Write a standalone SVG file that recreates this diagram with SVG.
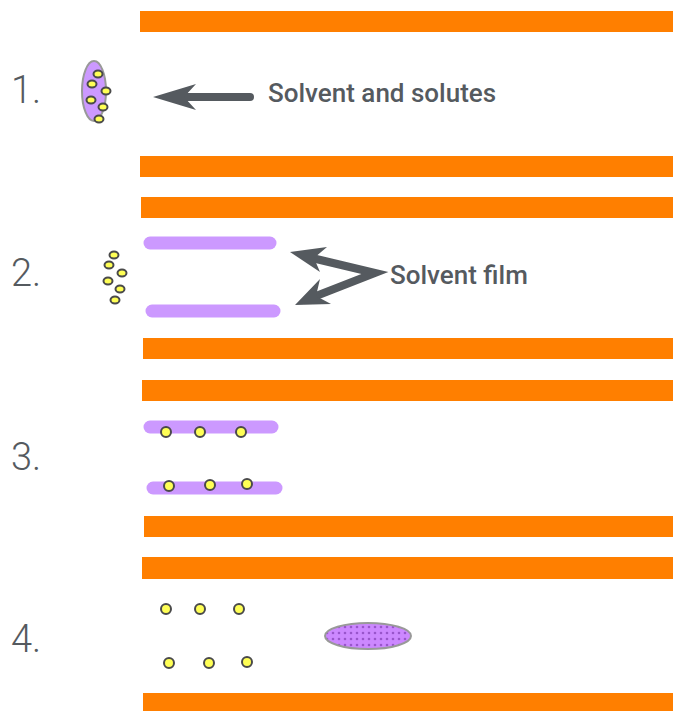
<svg xmlns="http://www.w3.org/2000/svg" width="673" height="711" viewBox="0 0 673 711">
<style>
.bar{fill:#ff7f00}
.num{font-family:Roboto,"Liberation Sans",sans-serif;font-size:38px;font-weight:300;fill:#555a5f}
.lbl{font-family:Roboto,"Liberation Sans",sans-serif;font-size:26px;font-weight:500;fill:#555a5f}
.film{stroke:#cc99ff;stroke-width:13;stroke-linecap:round;fill:none}
.sol{fill:#ffff55;stroke:#4a4a4a;stroke-width:2}
.arr{stroke:#555a5f;stroke-width:8;stroke-linecap:round;fill:none}
.head{fill:#555a5f}
</style>
<defs>
<pattern id="dots" width="6" height="6" patternUnits="userSpaceOnUse">
<rect width="6" height="6" fill="#cc88ff"/>
<circle cx="3" cy="3" r="1.3" fill="#9955cc"/>
</pattern>
</defs>
<g id="bars">
<rect class="bar" x="140" y="11" width="533" height="21"/>
<rect class="bar" x="140" y="156" width="533" height="21"/>
<rect class="bar" x="141" y="197" width="532" height="21"/>
<rect class="bar" x="143" y="338" width="530" height="21"/>
<rect class="bar" x="142" y="380" width="531" height="21"/>
<rect class="bar" x="144" y="516" width="529" height="21"/>
<rect class="bar" x="142" y="557" width="531" height="22"/>
<rect class="bar" x="143" y="693" width="530" height="18"/>
</g>
<g id="labels">
<text class="num" x="11" y="103">1.</text>
<text class="num" x="11" y="286">2.</text>
<text class="num" x="11" y="470">3.</text>
<text class="num" x="11" y="652">4.</text>
</g>
<g id="step1">
<ellipse cx="94" cy="91" rx="12" ry="30" fill="#cc99ff" stroke="#999" stroke-width="2"/>
<ellipse class="sol" cx="98" cy="74" rx="4.5" ry="3.5"/>
<ellipse class="sol" cx="92" cy="84" rx="4.5" ry="3.5"/>
<ellipse class="sol" cx="106" cy="91" rx="4.5" ry="3.5"/>
<ellipse class="sol" cx="91" cy="100" rx="4.5" ry="3.5"/>
<ellipse class="sol" cx="103" cy="107" rx="4.5" ry="3.5"/>
<ellipse class="sol" cx="99" cy="119" rx="4.5" ry="3.5"/>
</g>
<g id="step2">
<line class="film" x1="150" y1="243" x2="270" y2="243"/>
<line class="film" x1="152" y1="311" x2="274" y2="311"/>
<ellipse class="sol" cx="114" cy="255" rx="4.5" ry="3.5"/>
<ellipse class="sol" cx="109" cy="265" rx="4.5" ry="3.5"/>
<ellipse class="sol" cx="122" cy="273" rx="4.5" ry="3.5"/>
<ellipse class="sol" cx="108" cy="281" rx="4.5" ry="3.5"/>
<ellipse class="sol" cx="120" cy="289" rx="4.5" ry="3.5"/>
<ellipse class="sol" cx="115" cy="300" rx="4.5" ry="3.5"/>
</g>
<g id="step3">
<line class="film" x1="150" y1="427" x2="272" y2="427"/>
<line class="film" x1="153" y1="488" x2="276" y2="488"/>
<circle class="sol" cx="166" cy="432" r="5"/>
<circle class="sol" cx="200" cy="432" r="5"/>
<circle class="sol" cx="241" cy="432" r="5"/>
<circle class="sol" cx="169" cy="486" r="5"/>
<circle class="sol" cx="210" cy="485" r="5"/>
<circle class="sol" cx="247" cy="484" r="5"/>
</g>
<g id="step4">
<circle class="sol" cx="166" cy="609" r="5"/>
<circle class="sol" cx="200" cy="609" r="5"/>
<circle class="sol" cx="239" cy="609" r="5"/>
<circle class="sol" cx="169" cy="663" r="5"/>
<circle class="sol" cx="209" cy="663" r="5"/>
<circle class="sol" cx="247" cy="662" r="5"/>
<ellipse cx="368" cy="636" rx="43" ry="13" fill="url(#dots)" stroke="#999" stroke-width="2"/>
</g>
<g id="connectors">
<line class="arr" x1="250" y1="97" x2="180" y2="97"/>
<path class="head" d="M153,97 L196,84 L184,97 L196,110 Z"/>
<path class="arr" d="M312,258 L375,273 L316,296" stroke-linejoin="miter"/>
<path class="head" d="M290,252 L327,247 L314,258 L320,272 Z"/>
<path class="head" d="M295,305 L320,279 L316,296 L331,304 Z"/>
</g>
<g id="texts">
<text class="lbl" x="268" y="102">Solvent and solutes</text>
<text class="lbl" x="390" y="284">Solvent film</text>
</g>
</svg>
